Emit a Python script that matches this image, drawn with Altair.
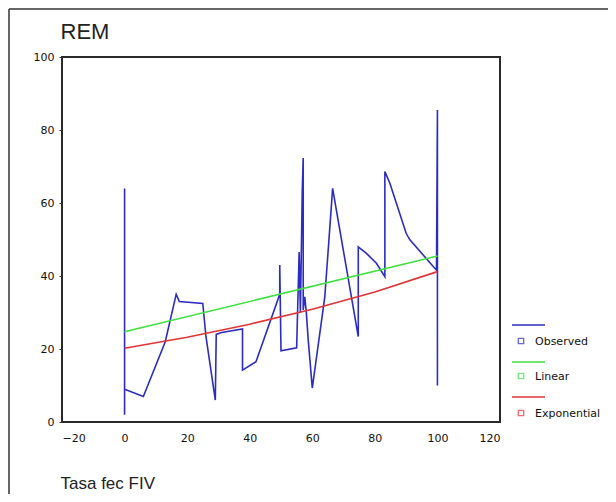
import altair as alt
import pandas as pd

# ---- data ----
obs_x = [0, 0, 0, 6, 13, 16.5, 17.5, 25, 26, 29, 29.3, 31, 37.7, 37.7, 42, 49.6, 49.6, 50, 55,
         55.8, 56.2, 56.8, 57.1, 57.1, 57.6, 58.1, 58.7, 60, 64, 65.4, 66.5, 74.7, 74.7, 77.3,
         80.5, 83.2, 83.2, 84.8, 90, 91.2, 99.7, 100, 100]
obs_y = [2, 64, 9, 7, 22, 35, 33, 32.5, 23.5, 6, 24, 24.5, 25.5, 14.2, 16.5, 35, 43, 19.5, 20.3,
         46.6, 30, 63.6, 72.3, 30.7, 34.3, 29.9, 22.5, 9.3, 34.3, 50.8, 64, 23.4, 48, 46.2,
         43.5, 39.8, 68.6, 65.4, 51.7, 49.9, 41.6, 85.5, 10]
lin_x = [0, 100]
lin_y = [24.7, 45.5]
exp_x = [0, 20, 40, 60, 80, 100]
exp_y = [20.2, 23.2, 26.8, 30.9, 35.6, 41.2]

series = ["Observed", "Linear", "Exponential"]
colors = ["#2c2cc0", "#3ee23e", "#e23434"]
x_ticks = [-20, 0, 20, 40, 60, 80, 100, 120]
y_ticks = [0, 20, 40, 60, 80, 100]

rows = []
for i, (a, b) in enumerate(zip(obs_x, obs_y)):
    rows.append({"x": a, "y": b, "series": series[0], "i": i})
for i, (a, b) in enumerate(zip(lin_x, lin_y)):
    rows.append({"x": a, "y": b, "series": series[1], "i": i})
for i, (a, b) in enumerate(zip(exp_x, exp_y)):
    rows.append({"x": a, "y": b, "series": series[2], "i": i})
df = pd.DataFrame(rows)

W, H = 438, 365
FONT = "DejaVu Sans"

lines = alt.Chart(df).mark_line(strokeWidth=1.6).encode(
    x=alt.X("x:Q", scale=alt.Scale(domain=[-20, 120], nice=False),
            axis=alt.Axis(values=x_ticks, title="Tasa fec FIV", ticks=False, domain=False,
                          grid=False, labelPadding=10, labelFontSize=11, labelFont=FONT,
                          labelColor="#111", titleFont="Liberation Sans", titleFontSize=17,
                          titleFontWeight="normal", titleColor="#222", titleX=-2, titleY=66,
                          titleAlign="left", titleBaseline="alphabetic", titleAnchor="start")),
    y=alt.Y("y:Q", scale=alt.Scale(domain=[0, 100], nice=False),
            axis=alt.Axis(values=y_ticks, title="REM", tickSize=3, tickColor="#333",
                          domain=False, grid=False, labelPadding=5, labelFontSize=11,
                          labelFont=FONT, labelColor="#111", titleFont="Liberation Sans",
                          titleFontSize=22, titleFontWeight="normal", titleColor="#222",
                          titleAngle=0, titleX=-2, titleY=-19, titleAlign="left",
                          titleBaseline="alphabetic")),
    color=alt.Color("series:N", scale=alt.Scale(domain=series, range=colors), legend=None),
    order=alt.Order("i:Q"),
    detail="series:N",
)

one = alt.Data(values=[{"a": 1}])
layers = [lines]

# legend (manual, placed to the right of the plot box)
leg_rule_y = [268, 305, 340]
leg_sq_y = [284, 319, 356]
for s, c, ry, sy in zip(series, colors, leg_rule_y, leg_sq_y):
    layers.append(alt.Chart(one).mark_rule(color=c, strokeWidth=1.6).encode(
        x=alt.value(450), x2=alt.value(483), y=alt.value(ry)))
    layers.append(alt.Chart(one).mark_point(shape="square", filled=False, color=c,
                                            size=28, strokeWidth=1.4).encode(
        x=alt.value(459), y=alt.value(sy)))
    layers.append(alt.Chart(pd.DataFrame({"label": [s]})).mark_text(
        align="left", baseline="middle", fontSize=11, font=FONT, color="#111").encode(
        x=alt.value(473), y=alt.value(sy + 1), text="label:N"))

# outer frame (top and left edges)
layers.append(alt.Chart(one).mark_rule(color="#333", strokeWidth=1.5).encode(
    x=alt.value(-53), x2=alt.value(560), y=alt.value(-48)))
layers.append(alt.Chart(one).mark_rule(color="#333", strokeWidth=1.5).encode(
    x=alt.value(-53), y=alt.value(-48), y2=alt.value(440)))

chart = alt.layer(*layers).properties(
    width=W, height=H,
    autosize=alt.AutoSizeParams(type="none"),
    padding={"left": 54, "top": 49, "right": 108, "bottom": 72},
    background="white",
).configure_view(stroke="#2a2a2a", strokeWidth=2)

chart.save("out.html", embed_options={"renderer": "svg", "actions": False})
